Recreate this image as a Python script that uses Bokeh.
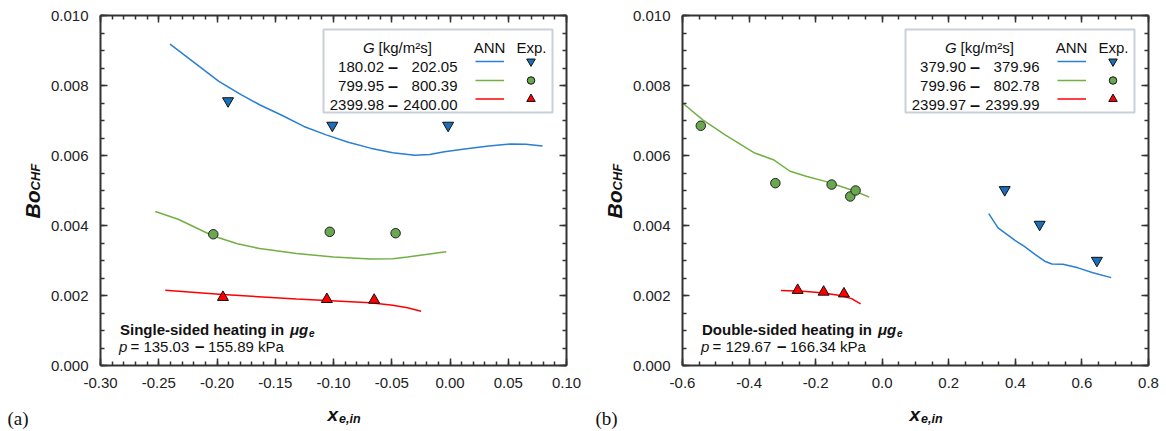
import numpy as np
from bokeh.plotting import figure
from bokeh.layouts import row
from bokeh.models import (Range1d, LinearAxis, FixedTicker, PrintfTickFormatter, Label,
                          BoxAnnotation, CustomJSTickFormatter)
from bokeh.embed import file_html
from bokeh.resources import INLINE

# ---------------- data: (a) single-sided heating ----------------
a_blue_ann_x = [-0.2403, -0.2206, -0.1984, -0.1794, -0.1635, -0.1444, -0.1254, -0.1063, -0.0873,
                -0.0683, -0.0492, -0.0302, -0.0175, -0.0048, 0.0143, 0.0333, 0.0524, 0.0651, 0.0794]
a_blue_ann_y = [0.00918, 0.00868, 0.00812, 0.00774, 0.00745, 0.00715, 0.00683, 0.00659, 0.00638,
                0.00621, 0.00608, 0.00601, 0.00603, 0.00611, 0.00619, 0.00627, 0.00633, 0.00632, 0.00627]
a_blue_exp_x = [-0.1905, -0.1010, -0.0016]
a_blue_exp_y = [0.00756, 0.00686, 0.00686]

a_green_ann_x = [-0.2530, -0.2333, -0.2032, -0.1825, -0.1635, -0.1317, -0.1000, -0.0683,
                 -0.0492, -0.0365, -0.0238, -0.0032]
a_green_ann_y = [0.00440, 0.00418, 0.00370, 0.00348, 0.00334, 0.00320, 0.00310, 0.00304,
                 0.00305, 0.00310, 0.00316, 0.00325]
a_green_exp_x = [-0.2032, -0.1032, -0.0467]
a_green_exp_y = [0.00375, 0.00382, 0.00378]

a_red_ann_x = [-0.2444, -0.1952, -0.1317, -0.0683, -0.0492, -0.0365, -0.0248]
a_red_ann_y = [0.00215, 0.00203, 0.00190, 0.00179, 0.00172, 0.00165, 0.00155]
a_red_exp_x = [-0.1949, -0.1057, -0.0651]
a_red_exp_y = [0.00195, 0.00189, 0.00187]

a_legend_lo = ["180.02", "799.95", "2399.98"]
a_legend_hi = ["202.05", "800.39", "2400.00"]
a_title = "Single-sided heating in"
a_pressure = ["135.03", "155.89 kPa"]

# ---------------- data: (b) double-sided heating ----------------
b_blue_ann_x = [0.320, 0.348, 0.398, 0.426, 0.460, 0.488, 0.510, 0.543, 0.588, 0.633, 0.688]
b_blue_ann_y = [0.00434, 0.00393, 0.00358, 0.00341, 0.00317, 0.00298, 0.00290, 0.00289, 0.00279, 0.00265, 0.00251]
b_blue_exp_x = [0.368, 0.473, 0.645]
b_blue_exp_y = [0.00502, 0.00403, 0.00300]

b_green_ann_x = [-0.600, -0.539, -0.472, -0.383, -0.327, -0.277, -0.226, -0.171, -0.126, -0.081, -0.039]
b_green_ann_y = [0.00750, 0.00702, 0.00659, 0.00607, 0.00588, 0.00555, 0.00540, 0.00526, 0.00512, 0.00498, 0.00481]
b_green_exp_x = [-0.545, -0.321, -0.152, -0.096, -0.080]
b_green_exp_y = [0.00685, 0.00521, 0.00517, 0.00483, 0.00500]

b_red_ann_x = [-0.304, -0.238, -0.182, -0.126, -0.092, -0.065]
b_red_ann_y = [0.00214, 0.00212, 0.00208, 0.00200, 0.00191, 0.00176]
b_red_exp_x = [-0.254, -0.176, -0.115]
b_red_exp_y = [0.00215, 0.00210, 0.00205]

b_legend_lo = ["379.90", "799.96", "2399.97"]
b_legend_hi = ["379.96", "802.78", "2399.99"]
b_title = "Double-sided heating in"
b_pressure = ["129.67", "166.34 kPa"]

# ---------------- axes ----------------
a_xticks = [-0.30, -0.25, -0.20, -0.15, -0.10, -0.05, 0.00, 0.05, 0.10]
b_xticks = [-0.6, -0.4, -0.2, 0.0, 0.2, 0.4, 0.6, 0.8]
yticks = [0.000, 0.002, 0.004, 0.006, 0.008, 0.010]

FONT = "Liberation Sans"
FW, FH = 466, 350
BLUE_L, BLUE_M = "#2a7fd4", "#1a6fb8"
GREEN_L, GREEN_M = "#72b043", "#6aa84f"
RED = "#ff0000"
AX = "#333333"


def panel(xr, xticks, xstep_minor, xfmt, border_right, series, legend_lo, legend_hi,
          title, title_w, pressure, tag, tagx):
    p = figure(x_range=Range1d(*xr), y_range=Range1d(0, 0.010),
               frame_width=FW, frame_height=FH,
               min_border_left=100, min_border_right=border_right,
               min_border_top=15, min_border_bottom=66,
               toolbar_location=None, output_backend="svg",
               background_fill_color="white", border_fill_color="white")
    p.xgrid.visible = False
    p.ygrid.visible = False
    p.outline_line_color = None
    bottom = p.below[0]
    left = p.left[0]

    xminor = [float(v) for v in np.round(np.arange(xr[0], xr[1] + 1e-9, xstep_minor), 4)]
    yminor = [float(v) for v in np.round(np.arange(0, 0.010 + 1e-9, 0.0005), 5)]

    bottom.ticker = FixedTicker(ticks=xticks, minor_ticks=xminor)
    left.ticker = FixedTicker(ticks=yticks, minor_ticks=yminor)
    bottom.formatter = PrintfTickFormatter(format=xfmt)
    left.formatter = PrintfTickFormatter(format="%.3f")

    blank = CustomJSTickFormatter(code="return ''")
    top = LinearAxis(ticker=FixedTicker(ticks=xticks, minor_ticks=xminor), formatter=blank,
                     major_label_standoff=0, major_label_text_font_size="1px")
    right = LinearAxis(ticker=FixedTicker(ticks=yticks, minor_ticks=yminor), formatter=blank,
                       major_label_standoff=0, major_label_text_font_size="1px")
    p.add_layout(top, "above")
    p.add_layout(right, "right")

    for ax in (bottom, left, top, right):
        ax.axis_line_width = 2
        ax.axis_line_color = AX
        ax.major_tick_in = 7
        ax.major_tick_out = 0
        ax.minor_tick_in = 4
        ax.minor_tick_out = 0
        ax.major_tick_line_color = AX
        ax.minor_tick_line_color = AX
        ax.major_tick_line_width = 1.5
        ax.minor_tick_line_width = 1.5
    for ax in (bottom, left):
        ax.major_label_text_font = FONT
        ax.major_label_text_font_size = "15px"
        ax.major_label_text_color = "#222222"
        ax.major_label_standoff = 12

    # pixel offsets (from frame left / frame bottom) -> data coordinates
    def dx(px):
        return xr[0] + px / FW * (xr[1] - xr[0])

    def dy(py):
        return py / FH * 0.010

    def lab(px, py, text, size="15px", style="normal", align="left", baseline="alphabetic",
            font=FONT, angle=0.0, side=None):
        lbl = Label(x=dx(px), y=dy(py), text=text,
                    text_font=font, text_font_size=size, text_font_style=style,
                    text_align=align, text_baseline=baseline, angle=angle,
                    text_color="#111111")
        if side is None:
            p.add_layout(lbl)
        else:
            p.add_layout(lbl, side)

    # data
    (bx, by, bex, bey), (gx, gy, gex, gey), (rx, ry, rex, rey) = series
    p.line(bx, by, line_color=BLUE_L, line_width=1.5)
    p.line(gx, gy, line_color=GREEN_L, line_width=1.5)
    p.line(rx, ry, line_color=RED, line_width=1.5)
    p.scatter(bex, bey, marker="inverted_triangle", size=11, fill_color=BLUE_M,
              line_color="#111111", line_width=1)
    p.scatter(gex, gey, marker="circle", size=9.5, fill_color=GREEN_M,
              line_color="#222222", line_width=1)
    p.scatter(rex, rey, marker="triangle", size=11, fill_color=RED,
              line_color="#111111", line_width=1)

    # legend
    p.add_layout(BoxAnnotation(left=dx(223), right=dx(452), top=dy(336), bottom=dy(253),
                               fill_color="white", fill_alpha=1.0,
                               line_color="#4a6480", line_width=2, level="underlay"))
    lab(262.5, 318.5, "G", style="italic")
    lab(278, 318.5, "[kg/m²s]")
    lab(389, 318.5, "ANN", align="center")
    lab(431, 318.5, "Exp.", align="center")
    row_base = [298.5, 279.5, 261]
    colors = [BLUE_L, GREEN_L, RED]
    mk = [("inverted_triangle", BLUE_M, 8.5), ("circle", GREEN_M, 7.5), ("triangle", RED, 8.5)]
    for i in range(3):
        lab(283.5, row_base[i], legend_lo[i], align="right")
        lab(287.5, row_base[i], "–", style="bold", size="18px")
        lab(357, row_base[i], legend_hi[i], align="right")
        yc = row_base[i] + 5.5
        p.line([dx(375), dx(403.5)], [dy(yc), dy(yc)], line_color=colors[i], line_width=1.5)
        m, c, s = mk[i]
        p.scatter([dx(430.5)], [dy(yc)], marker=m, size=s, fill_color=c,
                  line_color="#111111", line_width=1)

    # in-plot annotation
    lab(19.5, 36.5, title, style="bold")
    lab(19.5 + title_w, 36.5, "μg", style="bold italic")
    lab(19.5 + title_w + 19, 33, "e", style="bold italic", size="10px")
    lab(18.5, 19, "p", style="italic")
    lab(30, 19, "= " + pressure[0])
    lab(94.5, 19, "–", style="bold", size="17px")
    lab(107.5, 19, pressure[1])

    # axis titles and panel tag (outside the frame -> side panel, not clipped)
    lab(227, -49, "x", size="19px", style="bold italic", side="below")
    lab(238.5, -53, "e,in", size="12.5px", style="bold italic", side="below")
    lab(-68.5, 147, "Bo", size="21px", style="bold italic", angle=np.pi / 2, side="below")
    lab(-65.5, 175, "CHF", size="13px", style="bold italic", angle=np.pi / 2, side="below")
    lab(tagx, -52.5, tag, size="19px", font="Liberation Serif", baseline="middle", side="below")
    return p


pa = panel((-0.30, 0.10), a_xticks, 0.01, "%.2f", 16,
           [(a_blue_ann_x, a_blue_ann_y, a_blue_exp_x, a_blue_exp_y),
            (a_green_ann_x, a_green_ann_y, a_green_exp_x, a_green_exp_y),
            (a_red_ann_x, a_red_ann_y, a_red_exp_x, a_red_exp_y)],
           a_legend_lo, a_legend_hi, a_title, 170, a_pressure, "(a)", -93)
pb = panel((-0.6, 0.8), b_xticks, 0.05, "%.1f", 18,
           [(b_blue_ann_x, b_blue_ann_y, b_blue_exp_x, b_blue_exp_y),
            (b_green_ann_x, b_green_ann_y, b_green_exp_x, b_green_exp_y),
            (b_red_ann_x, b_red_ann_y, b_red_exp_x, b_red_exp_y)],
           b_legend_lo, b_legend_hi, b_title, 176, b_pressure, "(b)", -87)

layout = row(pa, pb)
open("out.html", "w").write(file_html(layout, INLINE))
